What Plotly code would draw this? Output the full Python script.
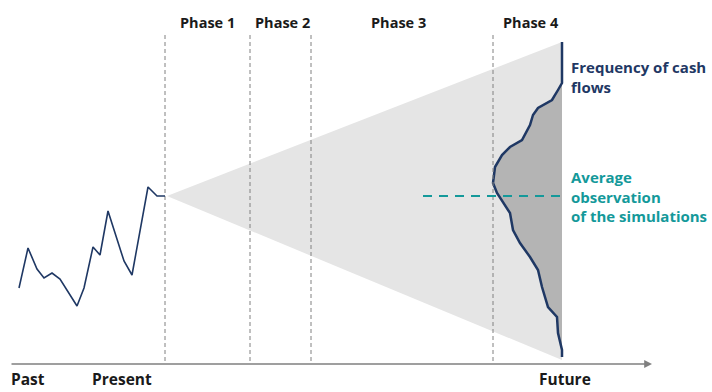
import plotly.graph_objects as go

# Historical cash-flow path (time, value)
history_t = [19, 28, 37, 44, 52, 60, 77, 84, 93, 100, 108, 124, 132, 148, 157, 165]
history_v = [104, 144, 123, 114, 119, 113, 86, 104, 145, 137, 181, 131, 117, 205, 196, 196]

# Projection cone: present point, upper and lower bound at the horizon
cone_t = [167, 562, 562]
cone_v = [196, 350, 32]

# Frequency profile of simulated cash flows at the horizon
freq_t = [562, 562, 558, 552, 538, 533, 530, 522, 510, 502, 495, 493, 497, 503, 510, 513,
          520, 530, 538, 542, 548, 557, 558, 562, 562]
freq_v = [350, 309, 302, 292, 284, 277, 267, 252, 245, 237, 225, 209, 199, 190, 179, 162,
          149, 135, 122, 105, 85, 75, 59, 42, 35]

# Average of the simulations
avg_t = [423, 562]
avg_v = [196, 196]

# Phase boundaries and labels
phase_bounds = [165, 250, 311, 493]
phase_labels = ["Phase 1", "Phase 2", "Phase 3", "Phase 4"]
phase_label_t = [207, 282, 398, 531]

time_labels = ["Past", "Present", "Future"]
time_label_t = [28, 122, 565]

NAVY = "#1f3864"
TEAL = "#14999a"
GREY = "#808080"
FONT = "Open Sans"

fig = go.Figure()

fig.add_trace(go.Scatter(x=cone_t, y=cone_v, fill="toself", fillcolor="#e5e5e5",
                         mode="none", hoverinfo="skip"))
fig.add_trace(go.Scatter(x=freq_t, y=freq_v, fill="toself", fillcolor="#b4b4b4",
                         mode="lines", line=dict(color=NAVY, width=2.5), hoverinfo="skip"))

for b in phase_bounds:
    fig.add_trace(go.Scatter(x=[b, b], y=[357, 28], mode="lines",
                             line=dict(color=GREY, width=1, dash="4px,3px"), hoverinfo="skip"))

fig.add_trace(go.Scatter(x=history_t, y=history_v, mode="lines",
                         line=dict(color=NAVY, width=1.6), hoverinfo="skip"))
fig.add_trace(go.Scatter(x=avg_t, y=avg_v, mode="lines",
                         line=dict(color=TEAL, width=2, dash="9px,7px"), hoverinfo="skip"))

# Time axis with arrowhead
fig.add_annotation(x=652, y=28, ax=10, ay=28, xref="x", yref="y", axref="x", ayref="y",
                   text="", showarrow=True, arrowhead=2, arrowsize=1.2, arrowwidth=1.3,
                   arrowcolor=GREY)

for lbl, t in zip(phase_labels, phase_label_t):
    fig.add_annotation(x=t, y=370, text="<b>%s</b>" % lbl, showarrow=False,
                       font=dict(family=FONT, size=14.5, color="#1a1a1a"))

for lbl, t in zip(time_labels, time_label_t):
    fig.add_annotation(x=t, y=0, yanchor="bottom", text="<b>%s</b>" % lbl, showarrow=False,
                       font=dict(family=FONT, size=15.5, color="#1a1a1a"))

fig.add_annotation(x=569, y=315, text="<b>Frequency of cash<br>flows</b>", showarrow=False,
                   xanchor="left", align="left",
                   font=dict(family=FONT, size=15, color=NAVY))
fig.add_annotation(x=569, y=196, text="<b>Average<br>observation<br>of the simulations</b>",
                   showarrow=False, xanchor="left", align="left",
                   font=dict(family=FONT, size=15, color=TEAL))

fig.update_layout(
    width=712, height=392, margin=dict(l=0, r=0, t=0, b=0),
    paper_bgcolor="white", plot_bgcolor="white", showlegend=False,
    xaxis=dict(range=[0, 712], visible=False, fixedrange=True),
    yaxis=dict(range=[0, 392], visible=False, fixedrange=True),
)

fig.write_html("out.html")
